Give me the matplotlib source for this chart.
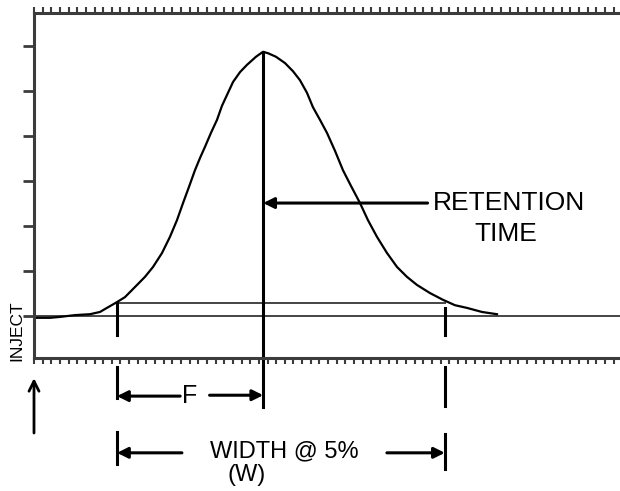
import numpy as np
import matplotlib
matplotlib.use("Agg")
import matplotlib.pyplot as plt

plt.rcParams['font.family'] = ['Liberation Sans', 'DejaVu Sans']

# chromatogram trace (time units = one minor tick, signal in major y ticks)
time = [0, 1.85, 3.01, 4.74, 6.47, 7.63, 7.98, 8.79, 9.60, 10.52, 11.91, 12.83,
        13.76, 14.80, 15.72, 16.53, 17.23, 17.92, 18.61, 19.19, 19.77, 20.46,
        21.16, 21.73, 22.43, 23.01, 23.82, 24.62, 25.66, 26.47, 27.05, 27.98,
        29.02, 29.94, 30.75, 31.56, 32.25, 33.06, 33.87, 34.80, 35.72, 36.65,
        37.69, 38.61, 39.65, 40.81, 41.97, 43.12, 44.28, 45.78, 47.28, 48.67,
        50.06, 51.79, 53.53]
signal = [-0.04, -0.04, -0.02, 0.02, 0.04, 0.09, 0.13, 0.22, 0.31, 0.42, 0.69, 0.87,
          1.09, 1.40, 1.76, 2.13, 2.51, 2.87, 3.24, 3.51, 3.76, 4.07,
          4.36, 4.67, 4.96, 5.20, 5.42, 5.58, 5.76, 5.87, 5.84, 5.76,
          5.62, 5.44, 5.24, 4.96, 4.64, 4.36, 4.07, 3.67, 3.24, 2.89,
          2.51, 2.13, 1.76, 1.40, 1.09, 0.87, 0.69, 0.51, 0.36, 0.24,
          0.18, 0.09, 0.04]
retention = 26.5
width_start = 9.6
width_end = 47.5
peak_height = 5.87
level = 0.05 * peak_height

fig = plt.figure(figsize=(6.2, 4.91), dpi=100)
ax = fig.add_axes([34 / 620, 133 / 491, 586 / 620, 345 / 491])
ax.set_xlim(0, 67.75)
ax.set_ylim(-0.933, 6.733)

spine_col = '#3c3c3c'
for s in ['left', 'top', 'bottom']:
    ax.spines[s].set_linewidth(2.2)
    ax.spines[s].set_color(spine_col)
ax.spines['right'].set_visible(False)

ax.set_yticks(range(7))
ax.set_yticklabels([])
ax.tick_params(axis='y', which='major', left=True, right=False, direction='out',
               length=8, width=2, color=spine_col)
ax.set_xticks([])
ax.set_xticks(np.arange(0, 68, 1), minor=True)
ax.tick_params(axis='x', which='minor', top=True, bottom=True, direction='out',
               length=4, width=1.5, color=spine_col, labelbottom=False)

# baseline and 5% line
ax.axhline(0, color='#444444', lw=1.4)
ax.plot([width_start, width_end], [level, level], color='#444444', lw=1.4)

# peak
ax.plot(time, signal, color='black', lw=1.6, solid_joinstyle='round')

# retention time line
ax.plot([retention, retention], [peak_height, -2.02], color='black', lw=2.2,
        clip_on=False)

# dashed width markers
ax.plot([width_start] * 2, [level, -0.42], color='black', lw=2.2, clip_on=False)
ax.plot([width_start] * 2, [-1.13, -1.82], color='black', lw=2.2, clip_on=False)
ax.plot([width_start] * 2, [-2.58, -3.29], color='black', lw=2.2, clip_on=False)
ax.plot([width_end] * 2, [0.18, -0.42], color='black', lw=2.2, clip_on=False)
ax.plot([width_end] * 2, [-1.13, -2.0], color='black', lw=2.2, clip_on=False)
ax.plot([width_end] * 2, [-2.62, -3.4], color='black', lw=2.2, clip_on=False)

arrow = dict(arrowstyle='-|>', color='black', lw=2.2, mutation_scale=16,
             shrinkA=0, shrinkB=0)

# F arrows
ax.annotate('', xy=(width_start, -1.78), xytext=(16.9, -1.78),
            arrowprops=arrow, annotation_clip=False)
ax.annotate('', xy=(retention, -1.76), xytext=(20.3, -1.76),
            arrowprops=arrow, annotation_clip=False)
ax.text(18.0, -1.78, 'F', fontsize=18, ha='center', va='center', clip_on=False)

# width arrows
ax.annotate('', xy=(width_start, -3.04), xytext=(17.1, -3.04),
            arrowprops=arrow, annotation_clip=False)
ax.annotate('', xy=(width_end, -3.04), xytext=(40.8, -3.04),
            arrowprops=arrow, annotation_clip=False)
ax.text(28.9, -3.0, 'WIDTH @ 5%', fontsize=17, ha='center', va='center',
        clip_on=False)
ax.text(24.6, -3.53, '(W)', fontsize=17, ha='center', va='center',
        clip_on=False)

# retention arrow
ax.annotate('', xy=(retention, 2.51), xytext=(45.5, 2.51),
            arrowprops=arrow, annotation_clip=False)
ax.text(54.9, 2.51, 'RETENTION', fontsize=19, ha='center', va='center',
        clip_on=False)
ax.text(54.6, 1.82, 'TIME', fontsize=19, ha='center', va='center',
        clip_on=False)

# injection
ax.annotate('', xy=(0, -1.38), xytext=(0, -2.6),
            arrowprops=dict(arrowstyle='->', color='black', lw=2,
                            mutation_scale=18, shrinkA=0, shrinkB=0),
            annotation_clip=False)
ax.text(-1.95, -0.33, 'INJECT', fontsize=12.5, rotation=90, ha='center',
        va='center', clip_on=False)

fig.savefig('out.png', dpi=100)
